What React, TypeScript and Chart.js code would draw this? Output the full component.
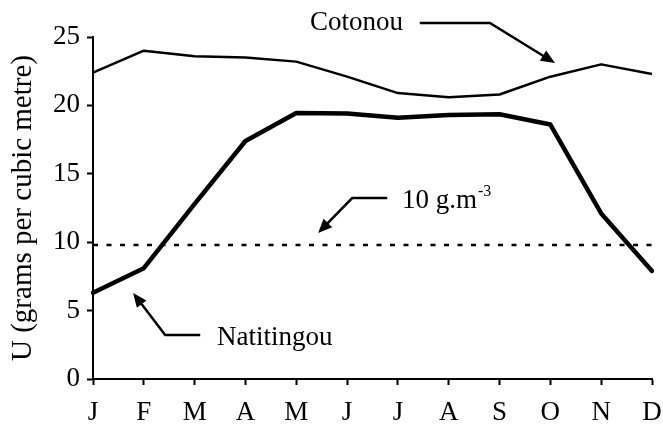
import React, { useEffect, useRef } from "react";
import { Chart, registerables } from "chart.js";

Chart.register(...registerables);

const months = ["J", "F", "M", "A", "M", "J", "J", "A", "S", "O", "N", "D"];
const cotonou = [22.4, 24.0, 23.6, 23.5, 23.2, 22.1, 20.9, 20.6, 20.8, 22.1, 23.0, 22.3];
const natitingou = [6.3, 8.1, 12.8, 17.4, 19.45, 19.4, 19.1, 19.3, 19.35, 18.6, 12.1, 7.9];
const threshold = [9.8, 9.8, 9.8, 9.8, 9.8, 9.8, 9.8, 9.8, 9.8, 9.8, 9.8, 9.8];
const yTicks = [0, 5, 10, 15, 20, 25];

const FONT = "'Liberation Serif', 'Times New Roman', serif";

// annotation anchors in data units (x: month index, y: value)
const annotations = [
  {
    text: "Cotonou",
    sup: "",
    at: [4.27, 25.51],
    arrow: [[6.43, 26.02], [7.81, 26.02], [9.09, 23.1]],
  },
  {
    text: "10 g.m",
    sup: "-3",
    at: [6.08, 12.5],
    arrow: [[5.79, 13.23], [5.1, 13.23], [4.43, 10.67]],
  },
  {
    text: "Natitingou",
    sup: "",
    at: [2.44, 2.49],
    arrow: [[2.11, 3.22], [1.42, 3.22], [0.79, 6.29]],
  },
];

const annotationPlugin = {
  id: "annotations",
  afterDatasetsDraw(chart: any) {
    const { ctx } = chart;
    const xs = chart.scales.x;
    const ys = chart.scales.y;
    const px = (v: number) => xs.getPixelForValue(v);
    const py = (v: number) => ys.getPixelForValue(v);
    ctx.save();
    ctx.fillStyle = "#000";
    ctx.strokeStyle = "#000";
    ctx.textBaseline = "alphabetic";
    ctx.textAlign = "left";
    for (const a of annotations) {
      const tx = px(a.at[0]);
      const ty = py(a.at[1]);
      ctx.font = `27px ${FONT}`;
      ctx.fillText(a.text, tx, ty);
      if (a.sup) {
        const w = ctx.measureText(a.text).width;
        ctx.font = `16px ${FONT}`;
        ctx.fillText(a.sup, tx + w + 1, ty - 12);
      }
      const pts = a.arrow.map((p) => [px(p[0]), py(p[1])]);
      ctx.lineWidth = 2.5;
      ctx.lineJoin = "miter";
      ctx.beginPath();
      ctx.moveTo(pts[0][0], pts[0][1]);
      for (let i = 1; i < pts.length - 1; i++) ctx.lineTo(pts[i][0], pts[i][1]);
      // stop the shaft a bit before the tip so the head stays sharp
      const [x1, y1] = pts[pts.length - 2];
      const [x2, y2] = pts[pts.length - 1];
      const ang = Math.atan2(y2 - y1, x2 - x1);
      const L = 14;
      const W = 6;
      ctx.lineTo(x2 - (L - 2) * Math.cos(ang), y2 - (L - 2) * Math.sin(ang));
      ctx.stroke();
      ctx.beginPath();
      ctx.moveTo(x2, y2);
      ctx.lineTo(
        x2 - L * Math.cos(ang) + W * Math.sin(ang),
        y2 - L * Math.sin(ang) - W * Math.cos(ang)
      );
      ctx.lineTo(
        x2 - L * Math.cos(ang) - W * Math.sin(ang),
        y2 - L * Math.sin(ang) + W * Math.cos(ang)
      );
      ctx.closePath();
      ctx.fill();
    }
    ctx.restore();
  },
};

export default function App() {
  const ref = useRef<HTMLCanvasElement | null>(null);
  useEffect(() => {
    if (!ref.current) return;
    const chart = new Chart(ref.current, {
      type: "line",
      data: {
        labels: months,
        datasets: [
          {
            label: "Cotonou",
            data: cotonou,
            borderColor: "#000",
            borderWidth: 2.5,
            pointRadius: 0,
            tension: 0,
            borderJoinStyle: "round",
          },
          {
            label: "Natitingou",
            data: natitingou,
            borderColor: "#000",
            borderWidth: 4.5,
            pointRadius: 0,
            tension: 0,
            borderJoinStyle: "round",
            borderCapStyle: "round",
          },
          {
            label: "10 g.m-3",
            data: threshold,
            borderColor: "#000",
            borderWidth: 2.5,
            borderDash: [5, 8.5],
            pointRadius: 0,
            tension: 0,
          },
        ],
      },
      options: {
        responsive: false,
        animation: false,
        events: [],
        layout: { padding: { top: 37, right: 11, left: 0, bottom: 0 } },
        plugins: {
          legend: { display: false },
          tooltip: { enabled: false },
          title: { display: false },
        },
        scales: {
          x: {
            type: "category",
            offset: false,
            afterFit(scale: any) {
              scale.height = 51;
              scale.paddingLeft = 0;
              scale.paddingRight = 0;
            },
            grid: {
              display: true,
              drawOnChartArea: false,
              drawTicks: true,
              tickLength: 6,
              tickWidth: 2,
              color: "#000",
            },
            border: { display: true, color: "#000", width: 2 },
            ticks: {
              color: "#000",
              padding: 12,
              maxRotation: 0,
              autoSkip: false,
              font: { family: FONT, size: 27 },
            },
          },
          y: {
            type: "linear",
            min: 0,
            max: 25,
            afterFit(scale: any) {
              scale.width = 93;
              scale.paddingTop = 0;
              scale.paddingBottom = 0;
            },
            afterBuildTicks(scale: any) {
              scale.ticks = yTicks.map((v) => ({ value: v }));
            },
            grid: {
              display: true,
              drawOnChartArea: false,
              drawTicks: true,
              tickLength: 6,
              tickWidth: 2,
              color: "#000",
            },
            border: { display: true, color: "#000", width: 2 },
            ticks: {
              color: "#000",
              padding: 7,
              font: { family: FONT, size: 27 },
            },
            title: {
              display: true,
              text: "U (grams per cubic metre)",
              color: "#000",
              font: { family: FONT, size: 29, lineHeight: 1 },
              padding: { top: 9, bottom: 0 },
            },
          },
        },
      },
      plugins: [annotationPlugin],
    });
    return () => chart.destroy();
  }, []);
  return (
    <div style={{ position: "fixed", left: 0, top: 0, width: 663, height: 430, background: "#fff" }}>
      <canvas ref={ref} width={663} height={430} style={{ display: "block" }} />
    </div>
  );
}
